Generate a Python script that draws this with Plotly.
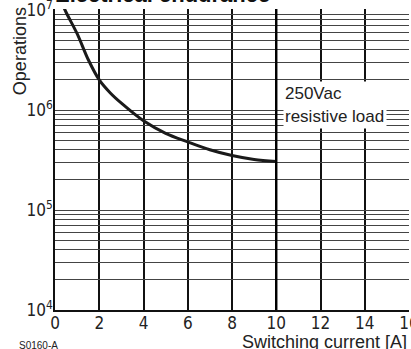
import plotly.graph_objects as go

# Courbe d'endurance électrique (250Vac, charge résistive)
courant = [0.25, 0.5, 1, 1.5, 2, 2.5, 3, 4, 5, 6, 7, 8, 9, 10]
operations = [1.26e7, 9.5e6, 5.8e6, 3.2e6, 2.0e6, 1.48e6, 1.17e6, 7.8e5,
              5.85e5, 4.8e5, 4.0e5, 3.5e5, 3.2e5, 3.05e5]

x_ticks = [0, 2, 4, 6, 8, 10, 12, 14, 16]
decades = [1e4, 1e5, 1e6, 1e7]
decade_labels = ["10<sup>4</sup>", "10<sup>5</sup>", "10<sup>6</sup>", "10<sup>7</sup>"]

# toutes les lignes de grille 1..9 x 10^n
y_grid = []
y_text = []
for d, lab in zip(decades[:-1], decade_labels[:-1]):
    for k in range(1, 10):
        y_grid.append(k * d)
        y_text.append(lab if k == 1 else " ")
y_grid.append(decades[-1])
y_text.append(decade_labels[-1])

fig = go.Figure()
fig.add_trace(go.Scatter(
    x=courant, y=operations, mode="lines",
    line=dict(color="#1a1a1a", width=3, shape="spline", smoothing=0.9),
    showlegend=False,
))

tick_font = dict(family="Liberation Sans Narrow, DejaVu Sans Condensed, Liberation Sans, Arial",
                 size=17, color="#222222")

fig.update_layout(
    width=411, height=349,
    margin=dict(l=55, r=2, t=9, b=39),
    plot_bgcolor="white", paper_bgcolor="white",
    xaxis=dict(
        range=[0, 16], tickvals=x_ticks, ticktext=[str(v) for v in x_ticks],
        showgrid=True, gridcolor="#111111", gridwidth=1.8,
        showline=True, linecolor="#111111", linewidth=1.5,
        zeroline=False, ticks="", tickfont=tick_font, automargin=False,
        ticklabeloverflow="allow", ticklabelstandoff=-3,
    ),
    yaxis=dict(
        type="log", range=[4, 7.01], tickvals=y_grid, ticktext=y_text,
        showgrid=True, gridcolor="#444444", gridwidth=1,
        showline=True, linecolor="#111111", linewidth=1.5,
        zeroline=False, ticks="", tickfont=tick_font, ticklabelstandoff=-3,
        automargin=False, ticklabeloverflow="allow",
    ),
)

# ligne verticale plus épaisse à 10 A
fig.add_shape(type="line", x0=10, x1=10, y0=0, y1=1, yref="paper",
              line=dict(color="#000000", width=2.4), layer="above")

text_font = dict(family="Liberation Sans, Arial", size=17, color="#222222")
label_font = dict(family="Liberation Sans, Arial", size=18, color="#222222")

fig.add_annotation(
    x=12.65, y=6.05, xref="x", yref="y",
    text="250Vac<br>resistive load", showarrow=False, align="left",
    bgcolor="white", width=100, height=44, font=text_font,
)
fig.add_annotation(
    x=0, y=1.0, xref="paper", yref="paper", xanchor="left", yanchor="bottom",
    text="<b>Electrical endurance</b>", showarrow=False, yshift=0, xshift=-2,
    font=dict(family="Liberation Sans, Arial", size=22, color="#111111"),
)
fig.add_annotation(
    x=0, y=0.86, xref="paper", yref="paper", textangle=-90,
    xanchor="center", yanchor="middle", xshift=-35,
    text="Operations", showarrow=False, font=label_font,
)
fig.add_annotation(
    x=1.0, y=-0.105, xref="paper", yref="paper", xanchor="right", yanchor="middle",
    text="Switching current [A]", showarrow=False, font=label_font,
)
fig.add_annotation(
    x=-0.107, y=-0.119, xref="paper", yref="paper", xanchor="left", yanchor="middle",
    text="S0160-A", showarrow=False,
    font=dict(family="Liberation Sans, Arial", size=10, color="#222222"),
)

# la page par défaut garde une marge de 8 px autour du graphique
fig.write_html("out.html", config={"displayModeBar": False},
               post_script="document.body.style.margin='0';")
